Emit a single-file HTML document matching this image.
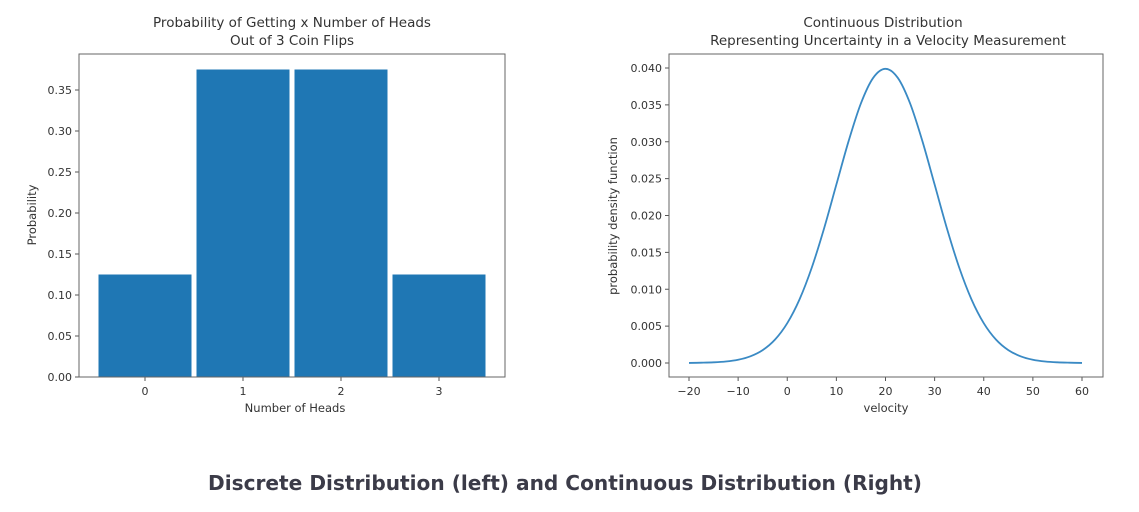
<!DOCTYPE html>
<html><head><meta charset="utf-8"><style>
body{margin:0;background:#fff;width:1139px;height:507px;overflow:hidden;font-family:"Liberation Sans",sans-serif}
svg text{font-family:"DejaVu Sans","Liberation Sans",sans-serif;fill:#333}
</style></head><body>
<svg width="1139" height="507">
<g id="left"></g>
<g id="right"></g>
<text x="565" y="490" text-anchor="middle" textLength="714" lengthAdjust="spacingAndGlyphs" style="font-family:'DejaVu Sans',sans-serif;font-weight:bold;font-size:20px;fill:#3b3b48">Discrete Distribution (left) and Continuous Distribution (Right)</text>
</svg>
<script>
const heads=[0,1,2,3];
const probs=[0.125,0.375,0.375,0.125];
const leftYTicks=[0,0.05,0.10,0.15,0.20,0.25,0.30,0.35];
const velocity=[-20,-17.5,-15,-12.5,-10,-7.5,-5,-2.5,0,2.5,5,7.5,10,12.5,15,17.5,20,22.5,25,27.5,30,32.5,35,37.5,40,42.5,45,47.5,50,52.5,55,57.5,60];
const pdf=[0.00001,0.00004,0.00009,0.0002,0.00044,0.00091,0.00175,0.00317,0.0054,0.00863,0.01295,0.01826,0.0242,0.03011,0.03521,0.03867,0.03989,0.03867,0.03521,0.03011,0.0242,0.01826,0.01295,0.00863,0.0054,0.00317,0.00175,0.00091,0.00044,0.0002,0.00009,0.00004,0.00001];
const rightXTicks=[-20,-10,0,10,20,30,40,50,60];
const rightYTicks=[0,0.005,0.010,0.015,0.020,0.025,0.030,0.035,0.040];
const NS="http://www.w3.org/2000/svg";
function mk(p,t,a,txt){const e=document.createElementNS(NS,t);for(const k in a)e.setAttribute(k,a[k]);if(txt!==undefined)e.textContent=txt;p.appendChild(e);return e;}
// left
const L=document.getElementById('left');
const lx=v=>145+(v)*98, ly=v=>377-v*820;
mk(L,'text',{x:292,y:27,'text-anchor':'middle','font-size':13.5},'Probability of Getting x Number of Heads');
mk(L,'text',{x:292,y:45,'text-anchor':'middle','font-size':13.5},'Out of 3 Coin Flips');
heads.forEach((h,i)=>{const r=mk(L,'rect',{x:lx(h)-46.5,y:ly(probs[i]),width:93,height:ly(0)-ly(probs[i]),fill:'#1f77b4'});


const t=mk(L,'line',{x1:lx(h),x2:lx(h),y1:377,y2:381,stroke:'#555'});
const tl=mk(L,'text',{x:lx(h),y:395,'text-anchor':'middle','font-size':11},String(h));

});
leftYTicks.forEach(v=>{mk(L,'line',{x1:75,x2:79,y1:ly(v),y2:ly(v),stroke:'#555'});
const t=mk(L,'text',{x:72,y:ly(v)+4,'text-anchor':'end','font-size':11},v.toFixed(2));

});
mk(L,'rect',{x:79,y:54,width:426,height:323,fill:'none',stroke:'#666'});
mk(L,'text',{x:295,y:412,'text-anchor':'middle','font-size':11.5},'Number of Heads');
mk(L,'text',{transform:'translate(36,215) rotate(-90)','text-anchor':'middle','font-size':11.5},'Probability');
// right
const R=document.getElementById('right');
const rx=v=>689+(v+20)*393/80, ry=v=>363-v*295/0.04;
mk(R,'text',{x:883,y:27,'text-anchor':'middle','font-size':13.5},'Continuous Distribution');
mk(R,'text',{x:888,y:45,'text-anchor':'middle','font-size':13.5},'Representing Uncertainty in a Velocity Measurement');
rightXTicks.forEach(v=>{mk(R,'line',{x1:rx(v),x2:rx(v),y1:377,y2:381,stroke:'#555'});
const t=mk(R,'text',{x:rx(v),y:395,'text-anchor':'middle','font-size':11},v<0?'\u2212'+(-v):String(v));

});
rightYTicks.forEach(v=>{mk(R,'line',{x1:665,x2:669,y1:ry(v),y2:ry(v),stroke:'#555'});
const t=mk(R,'text',{x:662,y:ry(v)+4,'text-anchor':'end','font-size':11},v.toFixed(3));

});
let d='';
const P=velocity.map((v,i)=>[rx(v),ry(pdf[i])]);
d='M'+P[0][0]+','+P[0][1];
for(let i=0;i<P.length-1;i++){const p0=P[Math.max(0,i-1)],p1=P[i],p2=P[i+1],p3=P[Math.min(P.length-1,i+2)];
d+=' C'+(p1[0]+(p2[0]-p0[0])/6)+','+(p1[1]+(p2[1]-p0[1])/6)+' '+(p2[0]-(p3[0]-p1[0])/6)+','+(p2[1]-(p3[1]-p1[1])/6)+' '+p2[0]+','+p2[1];}
const c=mk(R,'path',{d:d,fill:'none',stroke:'#3a8ac4','stroke-width':1.8});


mk(R,'rect',{x:669,y:54,width:434,height:323,fill:'none',stroke:'#666'});
mk(R,'text',{x:886,y:412,'text-anchor':'middle','font-size':11.5},'velocity');
mk(R,'text',{transform:'translate(617,216) rotate(-90)','text-anchor':'middle','font-size':11.5},'probability density function');
</script>
</body></html>
